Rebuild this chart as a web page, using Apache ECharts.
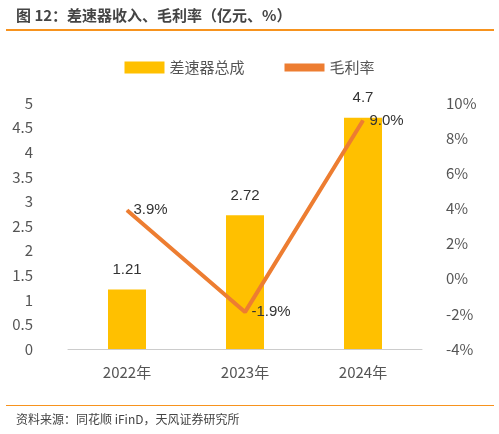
<!DOCTYPE html><html><head><meta charset="utf-8"><script src="https://cdn.jsdelivr.net/npm/echarts@6/dist/echarts.min.js"></script>
<style>body{margin:0;background:#fff}#t{position:absolute;left:16px;top:4px;font:bold 15px "Noto Sans CJK SC";color:#444}
#l1{position:absolute;left:6px;top:29px;width:488px;height:2px;background:#f7931e}
#l2{position:absolute;left:6px;top:405px;width:488px;height:1px;background:#f7931e}
#s{position:absolute;left:16px;top:410px;font:12px "Noto Sans CJK SC";color:#444}
#c{position:absolute;left:0;top:0;width:499px;height:434px}</style></head><body>
<div id="c"></div><div id="t">图 12：差速器收入、毛利率（亿元、%）</div><div id="l1"></div><div id="l2"></div><div id="s">资料来源：同花顺 iFinD，天风证券研究所</div>
<script>
const categories=['2022年','2023年','2024年'];
const revenue=[1.21,2.72,4.7];
const margin=[3.9,-1.9,9.0];
const c=echarts.init(document.getElementById('c'));
const f='"Noto Sans CJK SC"';
c.setOption({animation:false,
legend:{top:55,left:'center',itemGap:40,textStyle:{fontSize:15,color:'#555',fontFamily:f},
 data:[{name:'差速器总成',icon:'rect'},{name:'毛利率',icon:'path://M0,0H10V2H0Z'}],itemWidth:40,itemHeight:12},
grid:{left:68,right:77,top:103,bottom:85},
xAxis:{type:'category',data:categories,axisTick:{show:false},axisLine:{lineStyle:{color:'#ccc'}},axisLabel:{fontSize:15,color:'#555',margin:16,fontFamily:f}},
yAxis:[{type:'value',min:0,max:5,interval:0.5,axisLabel:{fontSize:15,color:'#555',margin:35,fontFamily:f},splitLine:{show:false}},
{type:'value',min:-4,max:10,interval:2,axisLabel:{fontSize:15,color:'#555',margin:24,fontFamily:f,formatter:'{value}%'},splitLine:{show:false}}],
series:[{name:'差速器总成',type:'bar',data:revenue,barWidth:38,itemStyle:{color:'#ffc000'},label:{show:true,position:'top',fontSize:15,color:'#333',distance:12}},
{name:'毛利率',type:'line',yAxisIndex:1,data:margin,symbol:'circle',symbolSize:1,showSymbol:true,lineStyle:{color:'#ed7d31',width:4},itemStyle:{color:'#ed7d31'},
 label:{show:true,position:'right',fontSize:15,color:'#333',formatter:p=>p.value.toFixed(1)+'%',distance:6}}]});
</script></body></html>
